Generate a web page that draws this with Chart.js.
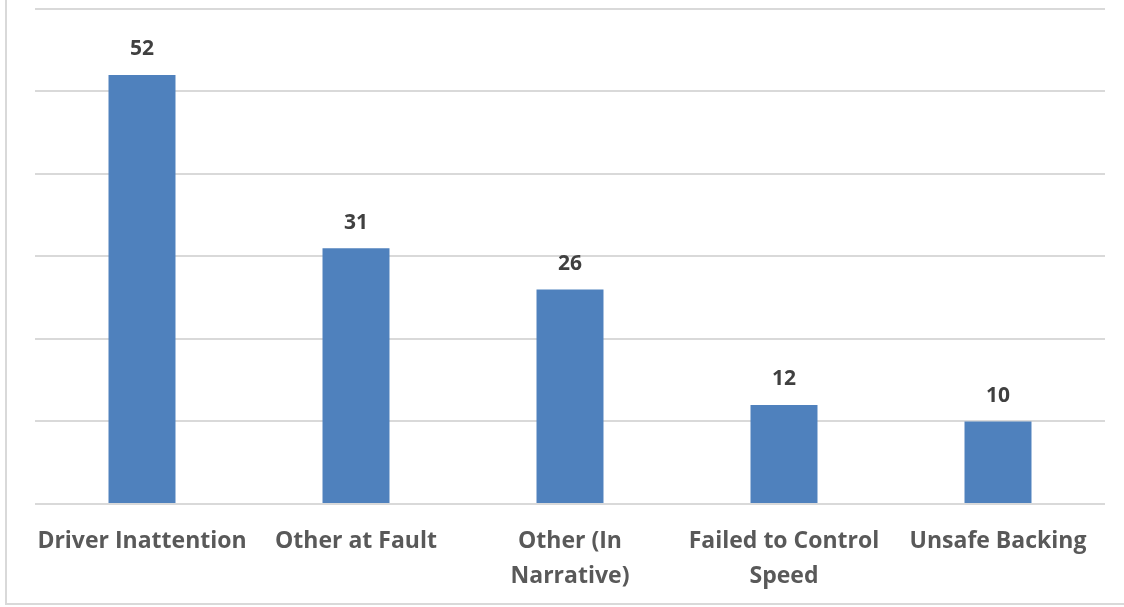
<!DOCTYPE html>
<html>
  <head>
    <script src="https://cdn.jsdelivr.net/npm/chart.js@4"></script>
    <style>
      body { margin: 0; background: #fff; }
      #frame {
        position: absolute; left: 0; top: 0; width: 1124px; height: 607px;
      }
      #edge {
        position: absolute; left: 5px; top: 0; width: 1130px; height: 605px;
        border-left: 2px solid #d9d9d9; border-bottom: 2px solid #d9d9d9;
        box-sizing: border-box;
      }
    </style>
  </head>

  <body>
    <div id="edge"></div>
    <div id="frame">
      <canvas id="canvas" width="1124" height="607"></canvas>
    </div>
    <script>
      const categories = [
        'Driver Inattention',
        'Other at Fault',
        ['Other (In', 'Narrative)'],
        ['Failed to Control', 'Speed'],
        'Unsafe Backing',
      ];
      const counts = [52, 31, 26, 12, 10];
      const yMax = 60;
      const yStep = 10;

      const labelFont = "'Open Sans', sans-serif";

      // draws the value above every bar
      const valueLabels = {
        id: 'valueLabels',
        afterDatasetsDraw(chart) {
          const ctx = chart.ctx;
          const meta = chart.getDatasetMeta(0);
          ctx.save();
          ctx.font = 'bold 21px ' + labelFont;
          ctx.fillStyle = '#404040';
          ctx.textAlign = 'center';
          ctx.textBaseline = 'bottom';
          meta.data.forEach((bar, i) => {
            ctx.fillText(String(chart.data.datasets[0].data[i]), bar.x, bar.y - 15);
          });
          ctx.restore();
        },
      };

      const chart = new Chart(document.getElementById('canvas').getContext('2d'), {
        type: 'bar',
        data: {
          labels: categories,
          datasets: [
            {
              data: counts,
              backgroundColor: '#4f81bd',
              categoryPercentage: 1,
              barPercentage: 0.313,
            },
          ],
        },
        options: {
          responsive: false,
          animation: false,
          layout: { padding: { left: 35, right: 19, top: 9, bottom: 1 } },
          plugins: {
            legend: { display: false },
            tooltip: { enabled: false },
          },
          scales: {
            x: {
              grid: { display: false },
              border: { display: false },
              ticks: {
                color: '#595959',
                font: { family: labelFont, size: 23, weight: 'bold', lineHeight: 1.48 },
                padding: 13,
                maxRotation: 0,
                autoSkip: false,
              },
            },
            y: {
              min: 0,
              max: yMax,
              border: { display: false },
              grid: { color: '#d9d9d9', lineWidth: 2, drawTicks: false },
              ticks: { display: false, stepSize: yStep },
              afterFit: (scale) => { scale.width = 0; },
            },
          },
        },
        plugins: [valueLabels],
      });
    </script>
  </body>
</html>
